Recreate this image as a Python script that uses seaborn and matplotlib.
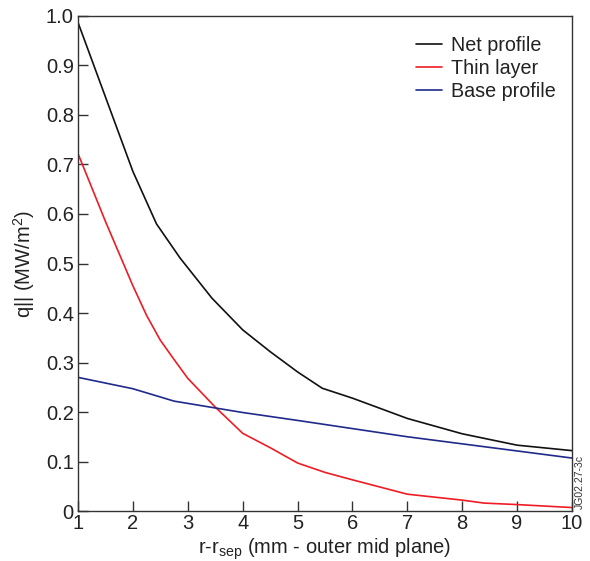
import numpy as np
import pandas as pd
import matplotlib
matplotlib.use("Agg")
import matplotlib.pyplot as plt
import seaborn as sns

# Parallel heat flux profiles vs distance from separatrix (outer mid plane)
net_x = [1.0, 2.0, 2.43, 2.86, 3.44, 4.0, 4.5, 5.0, 5.45, 6.0, 7.0, 8.0, 9.0, 10.0]
net_q = [0.987, 0.686, 0.580, 0.511, 0.430, 0.366, 0.322, 0.281, 0.248, 0.228, 0.187, 0.156, 0.133, 0.122]

thin_x = [1.0, 1.5, 2.0, 2.25, 2.5, 2.75, 3.0, 3.5, 4.0, 4.5, 5.0, 5.5, 6.0, 7.0, 8.0, 8.4, 9.0, 10.0]
thin_q = [0.722, 0.585, 0.455, 0.395, 0.345, 0.306, 0.268, 0.210, 0.157, 0.128, 0.097, 0.078, 0.063, 0.034, 0.022, 0.016, 0.013, 0.007]

base_x = [1.0, 2.0, 2.75, 4.0, 5.0, 7.0, 10.0]
base_q = [0.270, 0.247, 0.222, 0.199, 0.183, 0.150, 0.107]

series = ["Net profile", "Thin layer", "Base profile"]
colors = ["#111111", "#ee1c24", "#1f2a8a"]
x_ticks = list(range(1, 11))
y_ticks = [0, 0.1, 0.2, 0.3, 0.4, 0.5, 0.6, 0.7, 0.8, 0.9, 1.0]
y_tick_labels = ["0", "0.1", "0.2", "0.3", "0.4", "0.5", "0.6", "0.7", "0.8", "0.9", "1.0"]

df = pd.concat([
    pd.DataFrame({"r": net_x, "q": net_q, "profile": series[0]}),
    pd.DataFrame({"r": thin_x, "q": thin_q, "profile": series[1]}),
    pd.DataFrame({"r": base_x, "q": base_q, "profile": series[2]}),
], ignore_index=True)

sns.set_theme(style="white")
plt.rcParams["font.family"] = ["Liberation Sans", "DejaVu Sans"]
plt.rcParams["mathtext.fontset"] = "custom"
plt.rcParams["mathtext.rm"] = "Liberation Sans"
plt.rcParams["mathtext.it"] = "Liberation Sans:italic"
plt.rcParams["mathtext.bf"] = "Liberation Sans:bold"

fig = plt.figure(figsize=(5.90, 5.61), dpi=100)
ax = fig.add_axes([0.1322, 0.0891, 0.8373, 0.8824])

sns.lineplot(data=df, x="r", y="q", hue="profile", hue_order=series,
             palette=dict(zip(series, colors)), linewidth=1.2, sort=False,
             estimator=None, ax=ax)

ax.set_xlim(1, 10)
ax.set_ylim(0, 1.0)
ax.set_xticks(x_ticks)
ax.set_xticklabels([str(t) for t in x_ticks])
ax.set_yticks(y_ticks)
ax.set_yticklabels(y_tick_labels)

for s in ax.spines.values():
    s.set_color("#333333")
    s.set_linewidth(1.0)

ax.tick_params(axis="both", direction="in", length=7, width=1.0, color="#333333",
               labelsize=14.5, labelcolor="#222222", top=False, right=False,
               bottom=True, left=True)
ax.tick_params(axis="x", pad=2)
ax.tick_params(axis="y", pad=3)

ax.set_xlabel(r"r-r$_{\mathrm{sep}}$ (mm - outer mid plane)", fontsize=14.5, color="#222222", labelpad=3)
ax.set_ylabel(r"q|| (MW/m$^{2}$)", fontsize=14.5, color="#222222", labelpad=6)

leg = ax.legend(loc="upper right", frameon=False, fontsize=14.2, handlelength=1.3,
                handletextpad=0.45, labelspacing=0.2, borderaxespad=0.0,
                bbox_to_anchor=(0.983, 0.975))
for t in leg.get_texts():
    t.set_color("#222222")

fig.text(0.983, 0.093, "JG02.27-3c", rotation=90, fontsize=7.5, color="#333333",
         ha="center", va="bottom")

fig.savefig("out.png", dpi=100, facecolor="white")
